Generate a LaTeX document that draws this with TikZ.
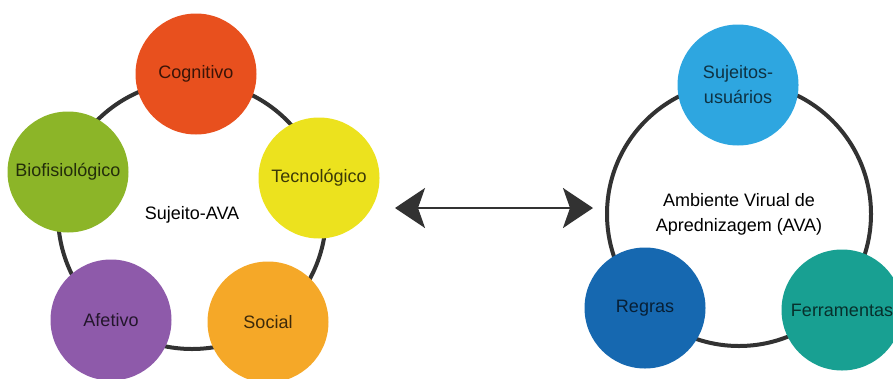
\documentclass[tikz,border=0pt]{standalone}
\usepackage{fontspec}
\setmainfont{Liberation Sans}
\usetikzlibrary{arrows.meta}

\definecolor{cognitivo}{RGB}{232,80,30}
\definecolor{tecnologico}{RGB}{236,226,30}
\definecolor{social}{RGB}{245,168,40}
\definecolor{afetivo}{RGB}{142,90,170}
\definecolor{biofisio}{RGB}{140,181,40}
\definecolor{sujeitos}{RGB}{46,166,224}
\definecolor{regras}{RGB}{22,104,176}
\definecolor{ferramentas}{RGB}{24,160,146}
\definecolor{anel}{RGB}{50,50,50}

\begin{document}
\begin{tikzpicture}[x=1pt, y=-1pt,
  font=\fontsize{18}{25}\selectfont,
  ring/.style={draw=anel, line width=4pt},
  blob/.style={circle, minimum size=121pt, inner sep=0pt, align=center},
  seta/.style={{Stealth[length=30pt, width=40pt, inset=7pt]}-{Stealth[length=30pt, width=40pt, inset=7pt]}, draw=anel, line width=2.5pt}]
\useasboundingbox (0,0) rectangle (893,378);

% Sujeito-AVA
\node (sujeito) at (192,215) {Sujeito-AVA};
\draw[ring] (sujeito.center) circle[radius=134pt];
\node[blob, fill=cognitivo, text=cognitivo!25!black] (cog) at (196,74) {Cognitivo};
\node[blob, fill=tecnologico, text=tecnologico!25!black] (tec) at (319,178) {Tecnológico};
\node[blob, fill=social, text=social!25!black] (soc) at (268,322) {Social};
\node[blob, fill=afetivo, text=afetivo!25!black] (afe) at (111,320) {Afetivo};
\node[blob, fill=biofisio, text=biofisio!25!black] (bio) at (68,172) {Biofisiológico};

% AVA
\node[align=center] (ava) at (739,214) {Ambiente Virual de\\Aprednizagem (AVA)};
\draw[ring] (ava.center) circle[radius=132pt];
\node[blob, fill=sujeitos, text=sujeitos!30!black] (suj) at (738,85) {Sujeitos-\\usuários};
\node[blob, fill=regras, text=regras!30!black] (reg) at (645,308) {Regras};
\node[blob, fill=ferramentas, text=ferramentas!30!black] (fer) at (842,310) {Ferramentas};

% Relacao
\coordinate (ladoA) at (395,208);
\coordinate (ladoB) at (593,208);
\draw[seta] (ladoA) -- (ladoB);
\end{tikzpicture}
\end{document}
